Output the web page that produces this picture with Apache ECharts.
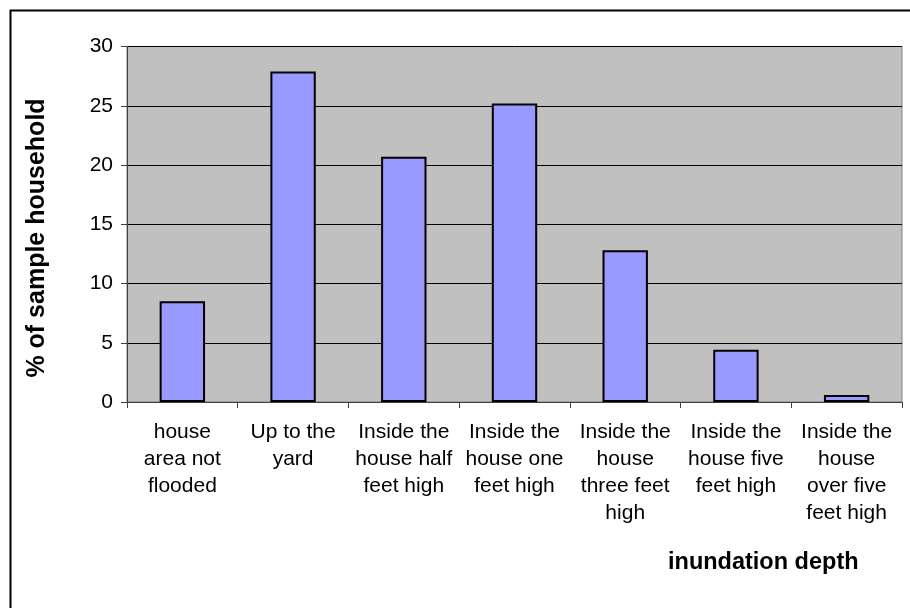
<!DOCTYPE html>
<html>
<head>
<meta charset="utf-8">
<script src="https://cdn.jsdelivr.net/npm/echarts@6/dist/echarts.min.js"></script>
<style>
html,body{margin:0;padding:0;background:#fff;}
#chart{width:910px;height:608px;}
</style>
</head>
<body>
<div id="chart"></div>
<script>
const categories = [
  "house\narea not\nflooded",
  "Up to the\nyard",
  "Inside the\nhouse half\nfeet high",
  "Inside the\nhouse one\nfeet high",
  "Inside the\nhouse\nthree feet\nhigh",
  "Inside the\nhouse five\nfeet high",
  "Inside the\nhouse\nover five\nfeet high"
];
const values = [8.5, 27.9, 20.7, 25.2, 12.8, 4.4, 0.6];
const yTicks = { min: 0, max: 30, interval: 5 };
const yAxisTitle = "% of sample household";
const xAxisTitle = "inundation depth";

const FONT = '"Liberation Sans", Arial, sans-serif';
const chart = echarts.init(document.getElementById('chart'), null, {renderer: 'canvas'});
chart.setOption({
  animation: false,
  backgroundColor: '#ffffff',
  graphic: [
    {type: 'rect', left: 8, top: 8, shape: {x: 0, y: 0, width: 1000, height: 1000},
     style: {fill: 'none', stroke: '#000', lineWidth: 2}, silent: true},
    {type: 'text', left: 668, top: 551,
     style: {text: xAxisTitle, font: 'bold 23.5px "Liberation Sans", Arial, sans-serif', fill: '#000'}},
    {type: 'text', x: 37, y: 238, rotation: Math.PI / 2,
     style: {text: yAxisTitle, font: 'bold 25px "Liberation Sans", Arial, sans-serif', fill: '#000',
             align: 'center', verticalAlign: 'middle'}}
  ],
  grid: {
    left: 127, top: 46.5, width: 775, height: 355.5,
    show: true, backgroundColor: '#C0C0C0', borderColor: '#808080', borderWidth: 1,
    containLabel: false
  },
  xAxis: {
    type: 'category',
    data: categories,
    boundaryGap: true,
    axisLine: {show: true, lineStyle: {color: '#404040', width: 1}},
    axisTick: {show: true, alignWithLabel: false, length: 6, lineStyle: {color: '#404040'}},
    axisLabel: {
      interval: 0, margin: 17, color: '#000',
      fontFamily: FONT, fontSize: 21, lineHeight: 27,
      align: 'center', verticalAlign: 'top'
    },
    splitLine: {show: false}
  },
  yAxis: {
    type: 'value',
    min: yTicks.min, max: yTicks.max, interval: yTicks.interval,
    axisLine: {show: true, lineStyle: {color: '#404040', width: 1}},
    axisTick: {show: true, length: 6, lineStyle: {color: '#404040'}},
    axisLabel: {margin: 14, color: '#000', fontFamily: FONT, fontSize: 21},
    splitLine: {show: true, lineStyle: {color: '#000', width: 1}}
  },
  series: [{
    type: 'bar',
    data: values,
    barWidth: '41%',
    itemStyle: {color: '#9999FF', borderColor: '#000', borderWidth: 2}
  }]
});
</script>
</body>
</html>
